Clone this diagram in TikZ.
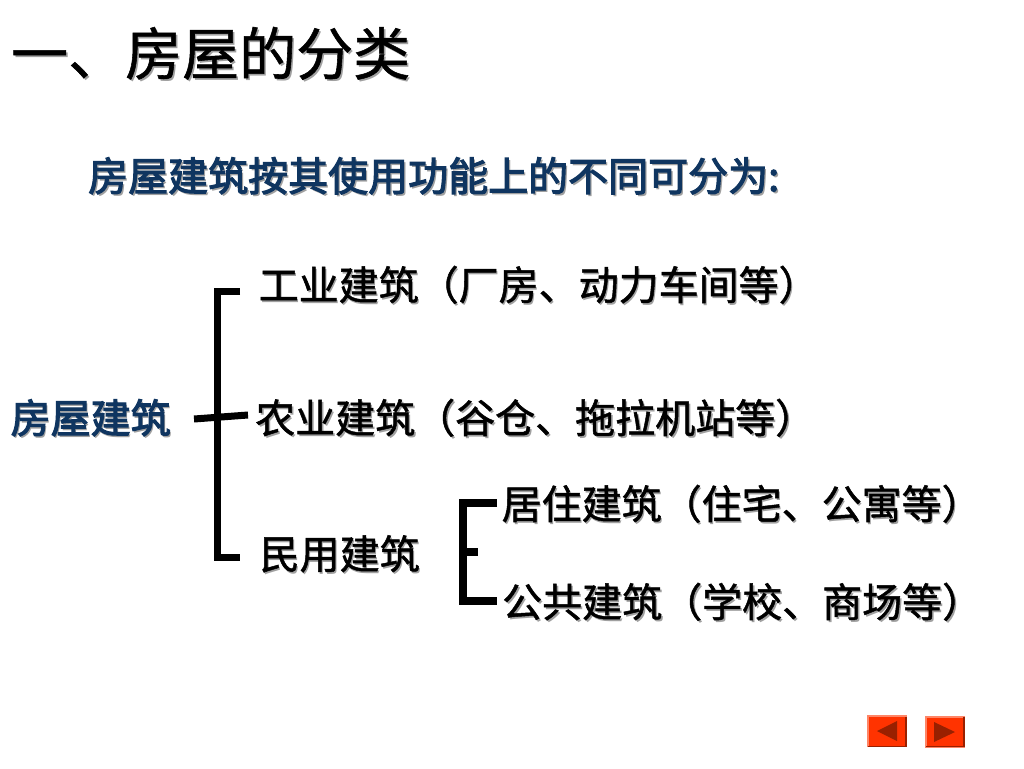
\documentclass[tikz,border=0pt]{standalone}
\usepackage{fontspec}
\newfontfamily\cjk{Noto Sans CJK SC}
\definecolor{navy}{HTML}{0F3560}
\definecolor{shade}{HTML}{A0A0A0}
\definecolor{btn}{HTML}{FF3300}
\definecolor{btnlight}{HTML}{FF8566}
\definecolor{btndark}{HTML}{992000}
% outlined glyphs with a soft drop shadow, in one text run
\newcommand{\embossed}[3]{%
  \leavevmode\rlap{\kern2pt\raisebox{-2pt}{\color{shade}#3}}%
  \special{pdf:code q 2 Tr #2 w}{\color{#1}#3}\special{pdf:code Q}}
\tikzset{
  x=1pt,y=-1pt,
  titletext/.style={anchor=base west,inner sep=0pt,font=\cjk\fontsize{57}{60}\selectfont},
  bodytext/.style={anchor=base west,inner sep=0pt,font=\cjk\fontsize{40}{44}\selectfont},
  bracket/.style={draw=black,line width=7pt,line cap=butt,line join=miter},
  subbracket/.style={draw=black,line width=7.6pt,line cap=butt,line join=miter},
  btnface/.style={fill=btn,draw=none},
  btnhi/.style={fill=btnlight,draw=none},
  btnlo/.style={fill=btndark,draw=none},
  btnarrow/.style={fill=btndark,draw=none},
}
\begin{document}
\begin{tikzpicture}
\useasboundingbox (0,0) rectangle (1024,768);
\fill[white] (0,0) rectangle (1024,768);

\node[titletext] (title) at (11,75) {\embossed{black}{0.55}{一、房屋的分类}};
\node[bodytext] (sub) at (88,191) {\embossed{navy}{1.1}{房屋建筑按其使用功能上的不同可分为:}};
\node[bodytext] (root) at (10.5,433) {\embossed{navy}{1.1}{房屋建筑}};
\node[bodytext] (ind) at (258.5,300) {\embossed{black}{0.5}{工业建筑（厂房、动力车间等）}};
\node[bodytext] (agr) at (255,433) {\embossed{black}{0.5}{农业建筑（谷仓、拖拉机站等）}};
\node[bodytext] (civ) at (259.5,569) {\embossed{black}{0.5}{民用建筑}};
\node[bodytext] (res) at (501.5,519) {\embossed{black}{0.5}{居住建筑（住宅、公寓等）}};
\node[bodytext] (pub) at (502,617) {\embossed{black}{0.5}{公共建筑（学校、商场等）}};

\coordinate (m1) at (240,291.5);
\coordinate (m2) at (217.5,291.5);
\coordinate (m3) at (217.5,557.5);
\coordinate (m4) at (240,557.5);
\coordinate (t1) at (194,419);
\coordinate (t2) at (248,415);
\draw[bracket] (m1) -- (m2) -- (m3) -- (m4);
\draw[bracket] (t1) -- (t2);

\coordinate (n1) at (497,503);
\coordinate (n2) at (463,503);
\coordinate (n3) at (463,601);
\coordinate (n4) at (497,601);
\coordinate (n5) at (463,552);
\coordinate (n6) at (478,552);
\draw[subbracket] (n1) -- (n2) -- (n3) -- (n4);
\draw[subbracket] (n5) -- (n6);

% back button
\fill[btnhi] (867,715) rectangle (907,747);
\fill[btnlo] (905,717) rectangle (907,747);
\fill[btnlo] (868,745.5) rectangle (907,747);
\fill[btnface] (869,717) rectangle (905,745.5);
\fill[btnarrow] (877,731) -- (897,721) -- (897,741) -- cycle;
% forward button
\fill[btnhi] (925,716) rectangle (965,748);
\fill[btnlo] (963,717) rectangle (965,747);
\fill[btnlo] (926,745.5) rectangle (965,747);
\fill[btnface] (927,718) rectangle (963,745.5);
\fill[btnarrow] (955,732) -- (934,722) -- (934,742) -- cycle;
\end{tikzpicture}
\end{document}
